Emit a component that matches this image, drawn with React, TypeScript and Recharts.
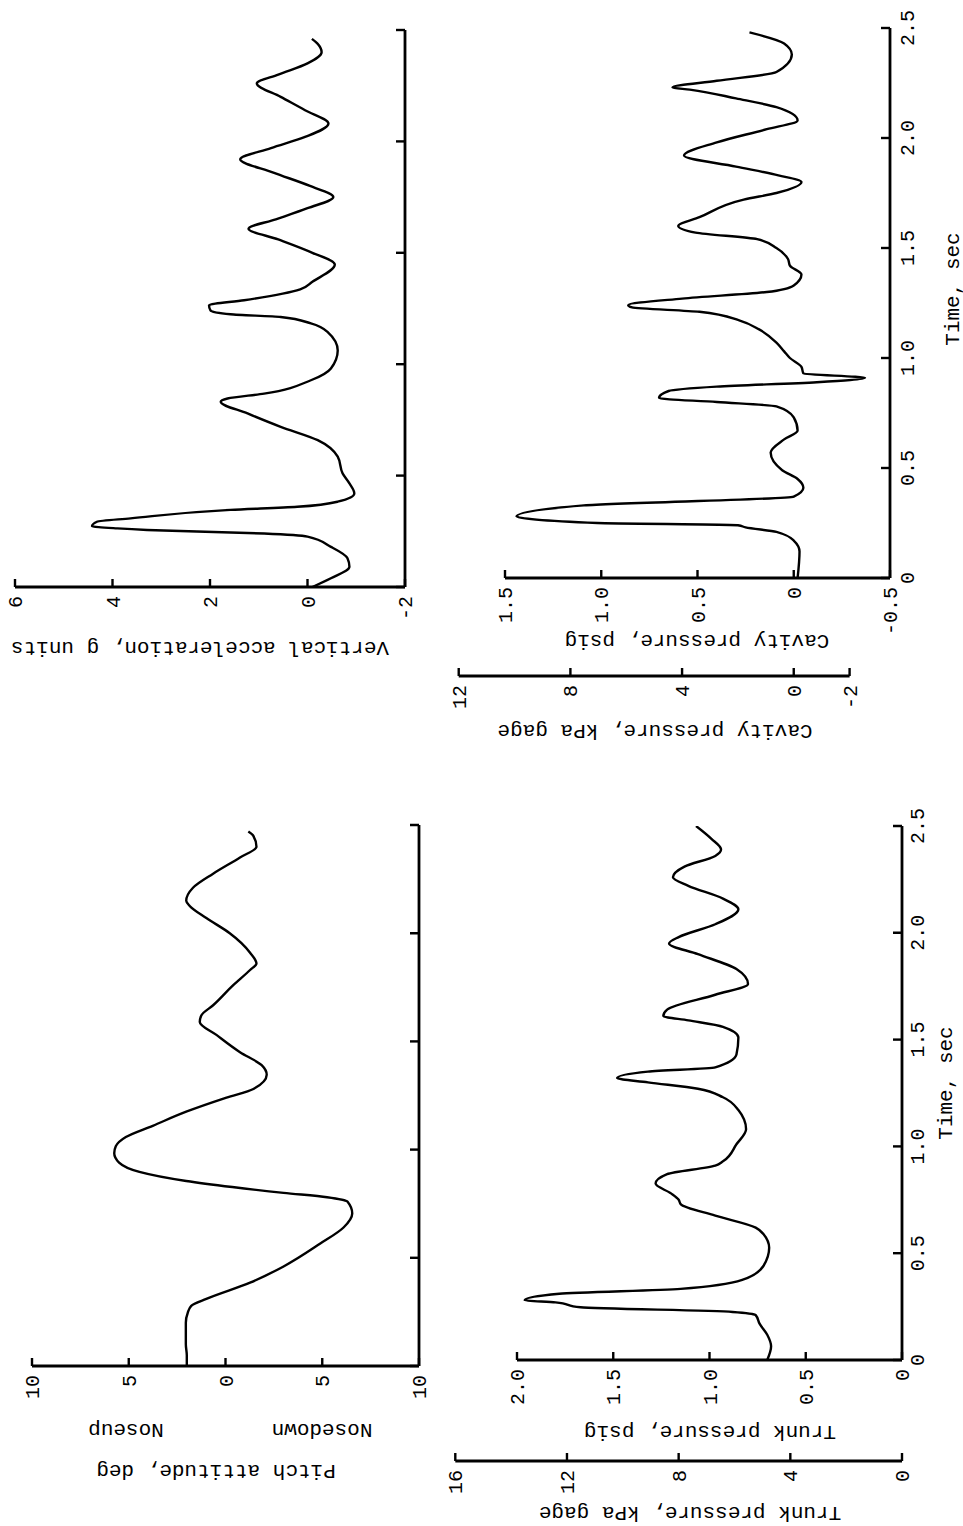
import React from 'react';
import { LineChart, Line, XAxis, YAxis } from 'recharts';

// The figure is drawn upright (time along the bottom) and the whole sheet
// is turned -90deg, as in the scanned report page.
const FONT = '"Liberation Mono", "Courier New", monospace';
const PSI_TO_KPA = 6.895;

const timeTicks = [0, 0.5, 1, 1.5, 2, 2.5];

const pitchTime = [0, 0.05, 0.1, 0.15, 0.2, 0.246, 0.278, 0.31, 0.385, 0.46, 0.566, 0.64, 0.705, 0.76, 0.78, 0.8, 0.827, 0.855, 0.897, 0.94, 0.983, 1.015, 1.058, 1.11, 1.175, 1.24, 1.28, 1.346, 1.39, 1.45, 1.53, 1.59, 1.62, 1.667, 1.76, 1.83, 1.86, 1.91, 2.0, 2.07, 2.126, 2.15, 2.21, 2.275, 2.35, 2.4, 2.45, 2.47];
const pitchDeg = [2.0, 2.0, 2.05, 2.05, 2.05, 1.95, 1.77, 0.99, -1.27, -3.0, -4.9, -6.1, -6.55, -6.3, -5.25, -3.0, -0.35, 2.03, 4.45, 5.5, 5.75, 5.67, 5.15, 3.76, 2.03, -0.05, -1.44, -2.13, -1.87, -0.75, 0.47, 1.33, 1.25, 0.64, -0.4, -1.27, -1.6, -1.27, -0.22, 0.99, 1.85, 2.03, 1.68, 0.64, -0.75, -1.6, -1.44, -1.18];
const pitchTicks = [-10, -5, 0, 5, 10];

const trunkTime = [0, 0.064, 0.118, 0.17, 0.21, 0.225, 0.247, 0.27, 0.28, 0.31, 0.333, 0.375, 0.44, 0.525, 0.59, 0.62, 0.676, 0.73, 0.75, 0.78, 0.826, 0.87, 0.91, 0.93, 1.01, 1.08, 1.17, 1.23, 1.27, 1.3, 1.32, 1.35, 1.37, 1.43, 1.51, 1.56, 1.59, 1.61, 1.64, 1.71, 1.76, 1.83, 1.9, 1.95, 1.98, 2.04, 2.11, 2.16, 2.22, 2.26, 2.31, 2.36, 2.39, 2.44, 2.5];
const trunkPsi = [0.7, 0.68, 0.7, 0.74, 0.76, 0.88, 1.67, 1.8, 1.96, 1.78, 1.15, 0.83, 0.72, 0.69, 0.72, 0.76, 0.97, 1.15, 1.16, 1.2, 1.28, 1.22, 0.97, 0.93, 0.86, 0.81, 0.85, 0.93, 1.06, 1.32, 1.48, 1.32, 0.97, 0.86, 0.85, 0.93, 1.11, 1.24, 1.22, 0.97, 0.8, 0.86, 1.06, 1.21, 1.16, 0.97, 0.85, 0.93, 1.11, 1.19, 1.13, 0.97, 0.94, 0.99, 1.07];
const trunkTicks = [0, 0.5, 1, 1.5, 2];
const trunkKpaTicks = [0, 4, 8, 12, 16];

const accelTime = [0, 0.039, 0.091, 0.129, 0.18, 0.226, 0.24, 0.256, 0.263, 0.273, 0.293, 0.308, 0.346, 0.36, 0.383, 0.42, 0.465, 0.51, 0.585, 0.659, 0.719, 0.779, 0.831, 0.846, 0.868, 0.928, 0.981, 1.062, 1.145, 1.183, 1.212, 1.224, 1.242, 1.265, 1.287, 1.336, 1.37, 1.447, 1.5, 1.56, 1.608, 1.65, 1.7, 1.75, 1.8, 1.86, 1.92, 1.97, 2.02, 2.08, 2.14, 2.2, 2.26, 2.3, 2.35, 2.4, 2.44, 2.46];
const accelG = [-0.1, -0.48, -0.86, -0.82, -0.48, 0.0, 0.89, 3.29, 3.9, 4.42, 4.32, 3.63, 1.58, 0.21, -0.62, -0.96, -0.86, -0.72, -0.62, -0.21, 0.55, 1.23, 1.78, 1.64, 0.89, -0.07, -0.48, -0.62, -0.41, -0.07, 0.55, 1.58, 1.99, 2.02, 1.3, 0.15, -0.1, -0.56, -0.1, 0.6, 1.21, 0.65, 0.0, -0.53, -0.05, 0.7, 1.38, 0.75, 0.05, -0.43, 0.05, 0.55, 1.04, 0.6, 0.0, -0.29, -0.2, -0.09];
const accelTicks = [-2, 0, 2, 4, 6];

const cavityTime = [0, 0.12, 0.17, 0.21, 0.23, 0.24, 0.25, 0.28, 0.33, 0.37, 0.41, 0.45, 0.49, 0.57, 0.63, 0.67, 0.73, 0.78, 0.8, 0.818, 0.85, 0.87, 0.89, 0.91, 0.93, 0.96, 1.0, 1.03, 1.07, 1.13, 1.17, 1.21, 1.23, 1.24, 1.27, 1.3, 1.33, 1.38, 1.42, 1.45, 1.5, 1.54, 1.57, 1.6, 1.64, 1.72, 1.75, 1.8, 1.83, 1.87, 1.92, 1.98, 2.04, 2.08, 2.14, 2.18, 2.22, 2.23, 2.26, 2.3, 2.38, 2.43, 2.48];
const cavityPsi = [-0.02, -0.03, 0.0, 0.09, 0.25, 0.29, 1.02, 1.44, 1.09, 0.0, -0.05, -0.02, 0.06, 0.12, 0.05, -0.02, 0.0, 0.09, 0.4, 0.7, 0.65, 0.4, -0.12, -0.37, -0.05, -0.04, 0.02, 0.05, 0.09, 0.18, 0.28, 0.49, 0.84, 0.86, 0.58, 0.14, 0.0, -0.04, 0.02, 0.03, 0.09, 0.19, 0.51, 0.6, 0.49, 0.26, 0.09, -0.04, 0.08, 0.3, 0.57, 0.4, 0.14, -0.02, 0.09, 0.3, 0.54, 0.63, 0.4, 0.09, 0.01, 0.05, 0.23];
const cavityTicks = [-0.5, 0, 0.5, 1, 1.5];
const cavityKpaTicks = [-2, 0, 4, 8, 12];

const rows = (ts: number[], ys: number[]) => ts.map((t, i) => ({ t, y: ys[i] }));

const axisLine = { stroke: '#000', strokeWidth: 2.8 };
const timeFmt = (v: number) => (v === 0 ? '0' : v.toFixed(1));
const LABEL_SIZE = 20;

// ticks point into the plot, labels sit outside the axis line
const bottomTick = (len: number, gap: number, fmt: ((v: number) => string) | null) => (p: any) => (
  <g>
    <line x1={p.x} y1={p.y} x2={p.x} y2={p.y - len} stroke="#000" strokeWidth={2.4} />
    {fmt && (
      <text x={p.x} y={p.y + gap} dy="0.71em" textAnchor="middle" fontFamily={FONT} fontSize={LABEL_SIZE} fill="#000">
        {fmt(p.payload.value)}
      </text>
    )}
  </g>
);

const leftTick = (len: number, gap: number, fmt: (v: number) => string) => (p: any) => (
  <g>
    <line x1={p.x} y1={p.y} x2={p.x + len} y2={p.y} stroke="#000" strokeWidth={2.4} />
    <text x={p.x - gap} y={p.y} dy="0.355em" textAnchor="end" fontFamily={FONT} fontSize={LABEL_SIZE} fill="#000">
      {fmt(p.payload.value)}
    </text>
  </g>
);

type Rect = { l: number; r: number; t: number; b: number };

function Panel(props: {
  data: { t: number; y: number }[];
  box: { left: number; top: number; width: number; height: number };
  plot: Rect;
  domain: [number, number];
  ticks: number[];
  fmt: (v: number) => string;
  timeLabels: boolean;
  timeGap: number;
}) {
  const { data, box, plot, domain, ticks, fmt, timeLabels, timeGap } = props;
  return (
    <div style={{ position: 'absolute', left: box.left, top: box.top }}>
      <LineChart
        width={box.width}
        height={box.height}
        data={data}
        margin={{ left: 0, top: plot.t - box.top, right: box.left + box.width - plot.r, bottom: 0 }}
      >
        <XAxis
          type="number"
          dataKey="t"
          domain={[0, 2.5]}
          ticks={timeTicks}
          interval={0}
          allowDataOverflow
          height={box.top + box.height - plot.b}
          axisLine={axisLine}
          tickLine={false}
          tickSize={0}
          tickMargin={0}
          tick={bottomTick(9, timeGap, timeLabels ? timeFmt : null)}
        />
        <YAxis
          type="number"
          domain={domain}
          ticks={ticks}
          interval={0}
          allowDataOverflow
          width={plot.l - box.left}
          axisLine={axisLine}
          tickLine={false}
          tickSize={0}
          tickMargin={0}
          tick={leftTick(8, 9, fmt)}
        />
        <Line type="monotone" dataKey="y" stroke="#000" strokeWidth={2.4} dot={false} isAnimationActive={false} />
      </LineChart>
    </div>
  );
}

function KpaAxis(props: { left: number; lineAt: number; top: number; bottom: number; domain: [number, number]; ticks: number[] }) {
  const { left, lineAt, top, bottom, domain, ticks } = props;
  const boxTop = 380;
  const boxHeight = 963 - boxTop;
  return (
    <div style={{ position: 'absolute', left, top: boxTop }}>
      <LineChart
        width={lineAt - left + 10}
        height={boxHeight}
        data={ticks.map((k) => ({ k }))}
        margin={{ left: 0, right: 10, top: top - boxTop, bottom: boxTop + boxHeight - bottom }}
      >
        <XAxis dataKey="k" hide />
        <YAxis
          type="number"
          domain={domain}
          ticks={ticks}
          interval={0}
          allowDataOverflow
          width={lineAt - left}
          axisLine={axisLine}
          tickLine={false}
          tickSize={0}
          tickMargin={0}
          tick={leftTick(8, 9, (v) => String(v))}
        />
      </LineChart>
    </div>
  );
}

function Txt(props: { u: number; v: number; text: string; rotate?: boolean }) {
  const { u, v, text, rotate } = props;
  return (
    <div
      style={{
        position: 'absolute',
        left: u,
        top: v,
        transform: `translate(-50%, -50%)${rotate ? ' rotate(-90deg)' : ''}`,
        whiteSpace: 'nowrap',
        fontFamily: FONT,
        fontSize: 21,
        color: '#000',
        lineHeight: 1,
      }}
    >
      {text}
    </div>
  );
}

const pitchPlot: Rect = { l: 160, r: 701, t: 32, b: 419 };
const trunkPlot: Rect = { l: 166, r: 700, t: 517, b: 902 };
const accelPlot: Rect = { l: 939, r: 1496, t: 15, b: 405 };
const cavityPlot: Rect = { l: 948, r: 1498, t: 505, b: 890 };

// pixel of a kPa value on the psi scale of a panel
const kpaPx = (plot: Rect, lo: number, hi: number, kpa: number) =>
  plot.b - ((kpa / PSI_TO_KPA - lo) / (hi - lo)) * (plot.b - plot.t);

export default function App() {
  return (
    <div style={{ position: 'absolute', left: 0, top: 0, width: 963, height: 1526, overflow: 'hidden', background: '#fff' }}>
      <div
        style={{
          position: 'absolute',
          left: 0,
          top: 0,
          width: 1526,
          height: 963,
          transformOrigin: '0 0',
          transform: 'translate(0px, 1526px) rotate(-90deg)',
        }}
      >
        <Panel
          data={rows(pitchTime, pitchDeg)}
          box={{ left: 0, top: 0, width: 740, height: 460 }}
          plot={pitchPlot}
          domain={[-10, 10]}
          ticks={pitchTicks}
          fmt={(v) => String(Math.abs(v))}
          timeLabels={false}
          timeGap={8}
        />
        <Panel
          data={rows(trunkTime, trunkPsi)}
          box={{ left: 0, top: 470, width: 740, height: 493 }}
          plot={trunkPlot}
          domain={[0, 2]}
          ticks={trunkTicks}
          fmt={(v) => (v === 0 ? '0' : v.toFixed(1))}
          timeLabels
          timeGap={8}
        />
        <Panel
          data={rows(accelTime, accelG)}
          box={{ left: 760, top: 0, width: 766, height: 460 }}
          plot={accelPlot}
          domain={[-2, 6]}
          ticks={accelTicks}
          fmt={(v) => String(v)}
          timeLabels={false}
          timeGap={8}
        />
        <Panel
          data={rows(cavityTime, cavityPsi)}
          box={{ left: 760, top: 470, width: 766, height: 493 }}
          plot={cavityPlot}
          domain={[-0.5, 1.5]}
          ticks={cavityTicks}
          fmt={(v) => (v === 0 ? '0' : v.toFixed(1))}
          timeLabels
          timeGap={10}
        />
        <KpaAxis
          left={0}
          lineAt={65}
          top={kpaPx(trunkPlot, 0, 2, 16)}
          bottom={kpaPx(trunkPlot, 0, 2, 0)}
          domain={[0, 16]}
          ticks={trunkKpaTicks}
        />
        <KpaAxis
          left={790}
          lineAt={850}
          top={kpaPx(cavityPlot, -0.5, 1.5, 12)}
          bottom={kpaPx(cavityPlot, -0.5, 1.5, -2)}
          domain={[-2, 12]}
          ticks={cavityKpaTicks}
        />

        <Txt u={56} v={216} text="Pitch attitude, deg" rotate />
        <Txt u={97} v={126} text="Noseup" rotate />
        <Txt u={97} v={322} text="Nosedown" rotate />
        <Txt u={95} v={710} text="Trunk pressure, psig" rotate />
        <Txt u={14} v={690} text="Trunk pressure, kPa gage" rotate />
        <Txt u={443} v={946} text="Time, sec" />
        <Txt u={879} v={200} text="Vertical acceleration, g units" rotate />
        <Txt u={886} v={697} text="Cavity pressure, psig" rotate />
        <Txt u={796} v={655} text="Cavity pressure, kPa gage" rotate />
        <Txt u={1237} v={953} text="Time, sec" />
      </div>
    </div>
  );
}
